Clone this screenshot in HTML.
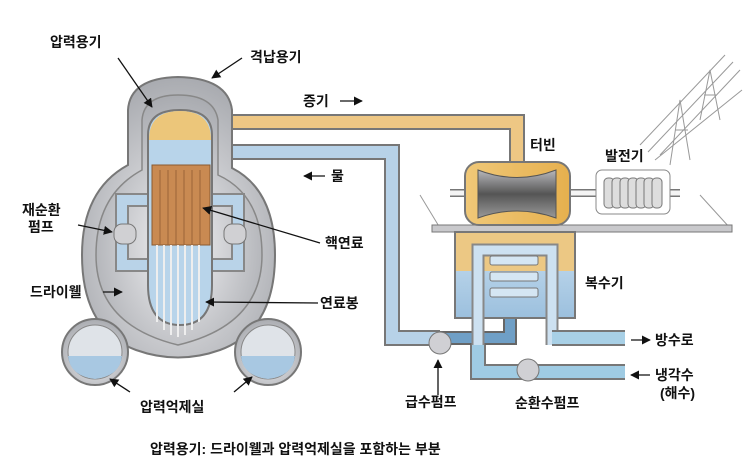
<!DOCTYPE html>
<html><head><meta charset="utf-8"><style>
html,body{margin:0;padding:0;background:#fff;}
svg{display:block}
text{font-family:"Liberation Sans","Noto Sans CJK KR",sans-serif;font-weight:bold;font-size:14px;fill:#111}
</style></head><body>
<svg width="748" height="464" viewBox="0 0 748 464" xmlns="http://www.w3.org/2000/svg">
<defs>
<radialGradient id="gr" cx="0.5" cy="0.6" r="0.6"><stop offset="0" stop-color="#f4f4f6"/><stop offset="1" stop-color="#a9abb0"/></radialGradient>
<linearGradient id="bl" x1="0" y1="0" x2="0" y2="1"><stop offset="0" stop-color="#c9dff0"/><stop offset="1" stop-color="#9cc0de"/></linearGradient>
<linearGradient id="ye" x1="0" y1="0" x2="1" y2="0"><stop offset="0" stop-color="#f0c878"/><stop offset="1" stop-color="#e6b04e"/></linearGradient>
<linearGradient id="tu" x1="0" y1="0" x2="0" y2="1"><stop offset="0" stop-color="#b8b8bc"/><stop offset="0.5" stop-color="#555"/><stop offset="1" stop-color="#999"/></linearGradient>
<marker id="ah" viewBox="0 0 10 10" refX="9" refY="5" markerWidth="7" markerHeight="7" orient="auto"><path d="M0 0 L10 5 L0 10Z" fill="#111"/></marker>
</defs>
<path d="M200 122 H517 V170" fill="none" stroke="#777" stroke-width="16"/>
<path d="M200 122 H517 V170" fill="none" stroke="#eec784" stroke-width="12"/>
<path d="M205 152 H392 V338 H440" fill="none" stroke="#777" stroke-width="16"/>
<path d="M205 152 H392 V338 H440" fill="none" stroke="#b7d2e8" stroke-width="12"/>
<path d="M440 338 H510 V312" fill="none" stroke="#666" stroke-width="14"/>
<path d="M440 338 H510 V312" fill="none" stroke="#6f9fc6" stroke-width="10"/>
<path d="M128 165 V110 Q130 78 178 77 Q228 78 232 110 V168 Q275 190 275 255 Q275 330 220 350 Q178 365 136 350 Q82 330 82 255 Q82 190 128 165 Z" fill="url(#gr)" stroke="#777" stroke-width="2"/>
<path d="M96 330 L118 340 M262 330 L240 340" stroke="#888" stroke-width="5"/>
<circle cx="95" cy="352" r="33" fill="url(#gr)" stroke="#777" stroke-width="2"/>
<circle cx="95" cy="352" r="27" fill="#dfe3e8" stroke="#888"/>
<path d="M68 356 H122 Q120 376 95 379 Q70 376 68 356Z" fill="#a8c8e2"/>
<circle cx="268" cy="352" r="33" fill="url(#gr)" stroke="#777" stroke-width="2"/>
<circle cx="268" cy="352" r="27" fill="#dfe3e8" stroke="#888"/>
<path d="M241 356 H295 Q293 376 268 379 Q243 376 241 356Z" fill="#a8c8e2"/>
<path d="M142 170 V120 Q144 95 178 95 Q214 95 218 120 V175 Q262 195 262 255 Q262 325 178 345 Q96 325 96 255 Q96 195 142 170Z" fill="url(#gr)" stroke="#888" stroke-width="1.5"/>
<path d="M150 200 H122 V265 H150" fill="none" stroke="#888" stroke-width="14"/>
<path d="M150 200 H122 V265 H150" fill="none" stroke="#b9d3e8" stroke-width="10"/>
<path d="M210 200 H238 V265 H210" fill="none" stroke="#888" stroke-width="14"/>
<path d="M210 200 H238 V265 H210" fill="none" stroke="#b9d3e8" stroke-width="10"/>
<rect x="114" y="224" width="22" height="20" rx="8" fill="#d0d0d3" stroke="#777"/>
<rect x="224" y="224" width="22" height="20" rx="8" fill="#d0d0d3" stroke="#777"/>
<path d="M148 135 Q148 110 180 110 Q212 110 212 135 V285 Q212 325 180 325 Q148 325 148 285Z" fill="#b8d4ea" stroke="#777" stroke-width="2"/>
<path d="M149 140 Q149 111 180 111 Q211 111 211 140Z" fill="#ecc67a"/>
<rect x="152" y="165" width="58" height="80" fill="#c98a52" stroke="#8a5a30"/>
<g stroke="#9a6438" stroke-width="1"><line x1="160" y1="170" x2="160" y2="245"/><line x1="168" y1="170" x2="168" y2="245"/><line x1="176" y1="170" x2="176" y2="245"/><line x1="184" y1="170" x2="184" y2="245"/><line x1="192" y1="170" x2="192" y2="245"/><line x1="200" y1="170" x2="200" y2="245"/></g>
<g stroke="#eee" stroke-width="2"><line x1="157" y1="245" x2="157" y2="322"/><line x1="164" y1="245" x2="164" y2="330"/><line x1="171" y1="245" x2="171" y2="335"/><line x1="178" y1="245" x2="178" y2="337"/><line x1="185" y1="245" x2="185" y2="335"/><line x1="192" y1="245" x2="192" y2="330"/><line x1="199" y1="245" x2="199" y2="322"/></g>
<path d="M420 195 L440 228 M700 195 L730 228" stroke="#999" stroke-width="1"/>
<rect x="432" y="225" width="300" height="7" fill="#c9c9cc" stroke="#777"/>
<rect x="455" y="232" width="120" height="86" fill="url(#bl)" stroke="#777" stroke-width="2"/>
<rect x="456" y="233" width="118" height="38" fill="#ecc884"/>
<path d="M478 345 V250 H552 V345" fill="none" stroke="#888" stroke-width="13"/>
<path d="M478 345 V250 H552 V345" fill="none" stroke="#cde1f1" stroke-width="9"/>
<g fill="#d5e6f3" stroke="#777"><rect x="490" y="256" width="48" height="9" rx="2"/><rect x="490" y="272" width="48" height="9" rx="2"/><rect x="490" y="288" width="48" height="9" rx="2"/></g>
<path d="M552 338 H625" stroke="#777" stroke-width="16"/><path d="M552 338 H625" stroke="#a8d0e6" stroke-width="12"/>
<path d="M478 345 V372 H625" fill="none" stroke="#777" stroke-width="16"/><path d="M478 345 V372 H625" fill="none" stroke="#9fcbe3" stroke-width="12"/>
<circle cx="440" cy="343" r="11" fill="#d0d0d4" stroke="#777"/>
<circle cx="528" cy="370" r="11" fill="#d0d0d4" stroke="#777"/>
<line x1="450" y1="193" x2="680" y2="193" stroke="#777" stroke-width="8"/>
<line x1="450" y1="193" x2="680" y2="193" stroke="#f4f4f4" stroke-width="5"/>
<rect x="465" y="162" width="105" height="63" rx="14" fill="url(#ye)" stroke="#777" stroke-width="2"/>
<path d="M478 170 Q517 185 556 170 V218 Q517 204 478 218Z" fill="url(#tu)" stroke="#555"/>
<rect x="596" y="170" width="74" height="44" rx="6" fill="#fff" stroke="#888"/>
<g fill="#ddd" stroke="#777"><rect x="604" y="178" width="10" height="30" rx="4"/><rect x="612" y="178" width="10" height="30" rx="4"/><rect x="620" y="178" width="10" height="30" rx="4"/><rect x="628" y="178" width="10" height="30" rx="4"/><rect x="636" y="178" width="10" height="30" rx="4"/><rect x="644" y="178" width="10" height="30" rx="4"/><rect x="652" y="178" width="10" height="30" rx="4"/></g>
<g stroke="#999" stroke-width="1" fill="none"><line x1="640" y1="145" x2="725" y2="55"/><line x1="648" y1="152" x2="733" y2="62"/><line x1="660" y1="155" x2="740" y2="70"/><line x1="655" y1="160" x2="742" y2="90"/>
<path d="M670 165 L680 100 L690 160 M675 130 L688 130 M700 120 L710 70 L720 120 M704 95 L716 95"/></g>
<g stroke="#111" stroke-width="1.3" fill="none" marker-end="url(#ah)">
<line x1="118" y1="58" x2="152" y2="107"/><line x1="242" y1="58" x2="212" y2="78"/>
<line x1="78" y1="225" x2="112" y2="232"/><line x1="320" y1="243" x2="203" y2="208"/>
<line x1="103" y1="292" x2="122" y2="292"/><line x1="318" y1="303" x2="206" y2="302"/>
<line x1="130" y1="392" x2="110" y2="379"/><line x1="234" y1="392" x2="252" y2="377"/>
<line x1="340" y1="101" x2="362" y2="101"/><line x1="325" y1="176" x2="304" y2="176"/>
<line x1="438" y1="395" x2="438" y2="360"/><line x1="631" y1="340" x2="650" y2="340"/><line x1="650" y1="375" x2="631" y2="375"/>
</g>
<text x="50" y="47">압력용기</text>
<text x="250" y="62">격납용기</text>
<text x="303" y="106">증기</text>
<text x="331" y="181">물</text>
<text x="22" y="215">재순환</text>
<text x="28" y="232">펌프</text>
<text x="325" y="248">핵연료</text>
<text x="30" y="297">드라이웰</text>
<text x="320" y="308">연료봉</text>
<text x="140" y="412">압력억제실</text>
<text x="530" y="150">터빈</text>
<text x="605" y="161">발전기</text>
<text x="585" y="288">복수기</text>
<text x="655" y="345">방수로</text>
<text x="655" y="380">냉각수</text>
<text x="660" y="398">(해수)</text>
<text x="405" y="407">급수펌프</text>
<text x="515" y="408">순환수펌프</text>
<text x="150" y="454">압력용기: 드라이웰과 압력억제실을 포함하는 부분</text>
</svg>
</body></html>
